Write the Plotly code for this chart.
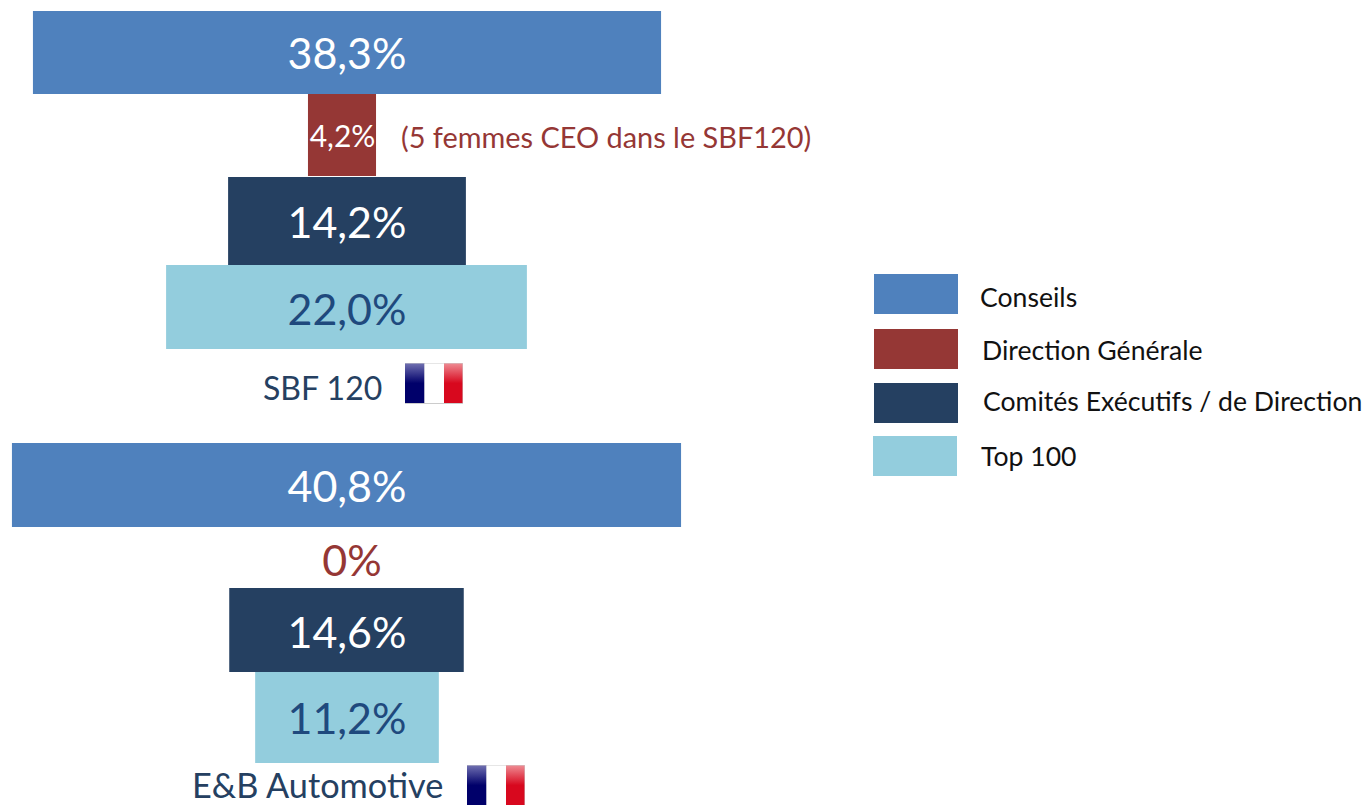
import base64
import plotly.graph_objects as go

# ---- data ----
segments = ["Conseils", "Direction Générale", "Comités Exécutifs / de Direction", "Top 100"]
sbf120_values = [38.3, 4.15, 14.5, 22.0]      # drawn lengths as measured in the picture
automotive_values = [40.8, 0.0, 14.3, 11.2]   # drawn lengths as measured in the picture
sbf120_labels = ["38,3%", "4,2%", "14,2%", "22,0%"]
automotive_labels = ["40,8%", "0%", "14,6%", "11,2%"]
group_names = ["SBF 120", "E&B Automotive"]
note = "(5 femmes CEO dans le SBF120)"

# ---- layout / style ----
W, H = 1367, 805
FONT = "Lato, Carlito, Calibri, sans-serif"
BLUE, RED, NAVY, LIGHT = "#4F81BD", "#953735", "#254061", "#93CDDD"
colors = [BLUE, RED, NAVY, LIGHT]
text_colors = ["white", "white", "white", "#1F497D"]
PX_PER_PCT = 16.4
CENTER_PX = 347

sbf_rows = [(11, 94), (94, 176), (177, 265), (265, 349)]
auto_rows = [(443, 527), (527, 588), (588, 672), (672, 763)]
sbf_centers_px = [347, 342, 347, 346.5]
auto_centers_px = [346.5, 346.5, 346.5, 347]
sbf_label_x_px = [347, 342.5, 347, 347]
auto_label_x_px = [347, 352, 347, 347]
sbf_label_y_px = [58, 139, 227, 314]
auto_label_y_px = [491, 565, 637, 723]
legend_rows = [(874, 958, 274, 314, 978, 297), (874, 958, 329, 369, 980, 350),
               (874, 958, 383, 423, 981, 401), (873, 957, 436, 476, 979, 456)]


def to_pct(px):
    return (px - CENTER_PX) / PX_PER_PCT


def flag(idx):
    svg = f'''<svg xmlns="http://www.w3.org/2000/svg" width="58" height="41" viewBox="0 0 58 41">
<defs><linearGradient id="b{idx}" x1="0" y1="0" x2="0" y2="1"><stop offset="0" stop-color="#6F6FB0"/><stop offset="0.5" stop-color="#00006A"/><stop offset="1" stop-color="#00006A"/></linearGradient>
<linearGradient id="r{idx}" x1="0" y1="0" x2="0" y2="1"><stop offset="0" stop-color="#EE8A92"/><stop offset="0.5" stop-color="#D8081E"/><stop offset="1" stop-color="#D8081E"/></linearGradient></defs>
<rect x="0" y="0" width="58" height="41" fill="#CCCCCC"/>
<rect x="0" y="0.5" width="19.5" height="39.5" fill="url(#b{idx})"/>
<rect x="19.5" y="0.5" width="19.5" height="39.5" fill="#FFFFFF"/>
<rect x="39" y="0.5" width="18.5" height="39.5" fill="url(#r{idx})"/></svg>'''
    return "data:image/svg+xml;base64," + base64.b64encode(svg.encode()).decode()


fig = go.Figure()
for i, seg in enumerate(segments):
    vals = [sbf120_values[i], automotive_values[i]]
    rows = [sbf_rows[i], auto_rows[i]]
    centers = [to_pct(sbf_centers_px[i]), to_pct(auto_centers_px[i])]
    fig.add_trace(go.Bar(
        name=seg, orientation="h",
        x=vals, base=[c - v / 2 for c, v in zip(centers, vals)],
        y=[(a + b) / 2 for a, b in rows], width=[b - a for a, b in rows],
        marker=dict(color=colors[i], line=dict(width=0)),
        showlegend=False, hoverinfo="skip",
    ))

    fig.add_trace(go.Scatter(
        mode="text",
        x=[to_pct(sbf_label_x_px[i]), to_pct(auto_label_x_px[i])],
        y=[sbf_label_y_px[i], auto_label_y_px[i]],
        text=[sbf120_labels[i], automotive_labels[i]],
        textposition="middle center",
        textfont=dict(family=FONT, size=[30 if i == 1 else 43, 43],
                      color=[text_colors[i], RED if i == 1 else text_colors[i]]),
        showlegend=False, hoverinfo="skip",
    ))

annotations = [
    dict(x=399, y=136, text=note, font=dict(color=RED, size=28.9), xanchor="left"),
    dict(x=261, y=387.5, text=group_names[0], font=dict(color=NAVY, size=32), xanchor="left"),
    dict(x=189.5, y=784.5, text=group_names[1], font=dict(color=NAVY, size=34.3), xanchor="left"),
]
shapes = []
for seg, color, (x0, x1, y0, y1, tx, ty) in zip(segments, colors, legend_rows):
    shapes.append(dict(type="rect", xref="paper", yref="paper", x0=x0 / W, x1=x1 / W,
                       y0=1 - y0 / H, y1=1 - y1 / H, fillcolor=color, line_width=0))
    annotations.append(dict(x=tx, y=ty, text=seg, font=dict(color="#111111", size=26.6), xanchor="left"))

for a in annotations:
    a.update(xref="paper", yref="paper", yanchor="middle", showarrow=False)
    a["x"] = a["x"] / W
    a["y"] = 1 - a["y"] / H
    a["font"]["family"] = FONT

images = [
    dict(source=flag(1), xref="paper", yref="paper", x=405 / W, y=1 - 363 / H,
         sizex=58 / W, sizey=41 / H, xanchor="left", yanchor="top", sizing="stretch", layer="above"),
    dict(source=flag(2), xref="paper", yref="paper", x=467 / W, y=1 - 765 / H,
         sizex=58 / W, sizey=41 / H, xanchor="left", yanchor="top", sizing="stretch", layer="above"),
]

fig.update_layout(
    width=W, height=H, margin=dict(l=0, r=0, t=0, b=0),
    paper_bgcolor="white", plot_bgcolor="white",
    barmode="overlay", showlegend=False,
    xaxis=dict(range=[-CENTER_PX / PX_PER_PCT, (W - CENTER_PX) / PX_PER_PCT], visible=False, fixedrange=True),
    yaxis=dict(range=[H, 0], visible=False, fixedrange=True),
    annotations=annotations, shapes=shapes, images=images,
)
fig.write_html("out.html", config={"displayModeBar": False},
               post_script="document.body.style.margin='0';document.body.style.overflow='hidden';")
